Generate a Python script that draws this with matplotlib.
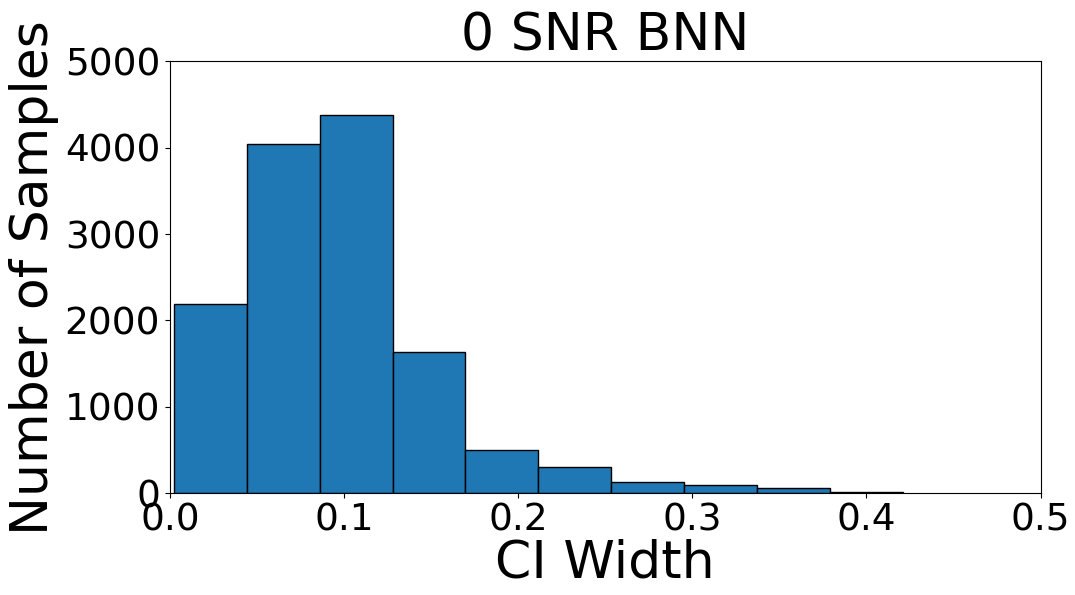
import numpy as np
import matplotlib
matplotlib.use("Agg")
import matplotlib.pyplot as plt

# histograma de anchos de intervalo
bin_min = 0.0023
bin_max = 0.4208
counts = [2190, 4046, 4382, 1636, 501, 308, 131, 93, 65, 15]
edges = np.linspace(bin_min, bin_max, len(counts) + 1)

fig = plt.figure(figsize=(10.75, 5.95), dpi=100)
ax = fig.add_axes([0.158, 0.171, 0.810, 0.726])

ax.hist(edges[:-1], bins=edges, weights=counts, color="#1f77b4", edgecolor="black", linewidth=1)

ax.set_xlim(0, 0.5)
ax.set_ylim(0, 5000)
ax.set_xticks([0.0, 0.1, 0.2, 0.3, 0.4, 0.5])
ax.set_yticks([0, 1000, 2000, 3000, 4000, 5000])
ax.tick_params(labelsize=27)

ax.set_title("0 SNR BNN", fontsize=37.5, pad=4)
ax.set_xlabel("CI Width", fontsize=37.5, labelpad=0)
ax.set_ylabel("Number of Samples", fontsize=37.5, labelpad=4)

fig.savefig("out.png", dpi=100)
